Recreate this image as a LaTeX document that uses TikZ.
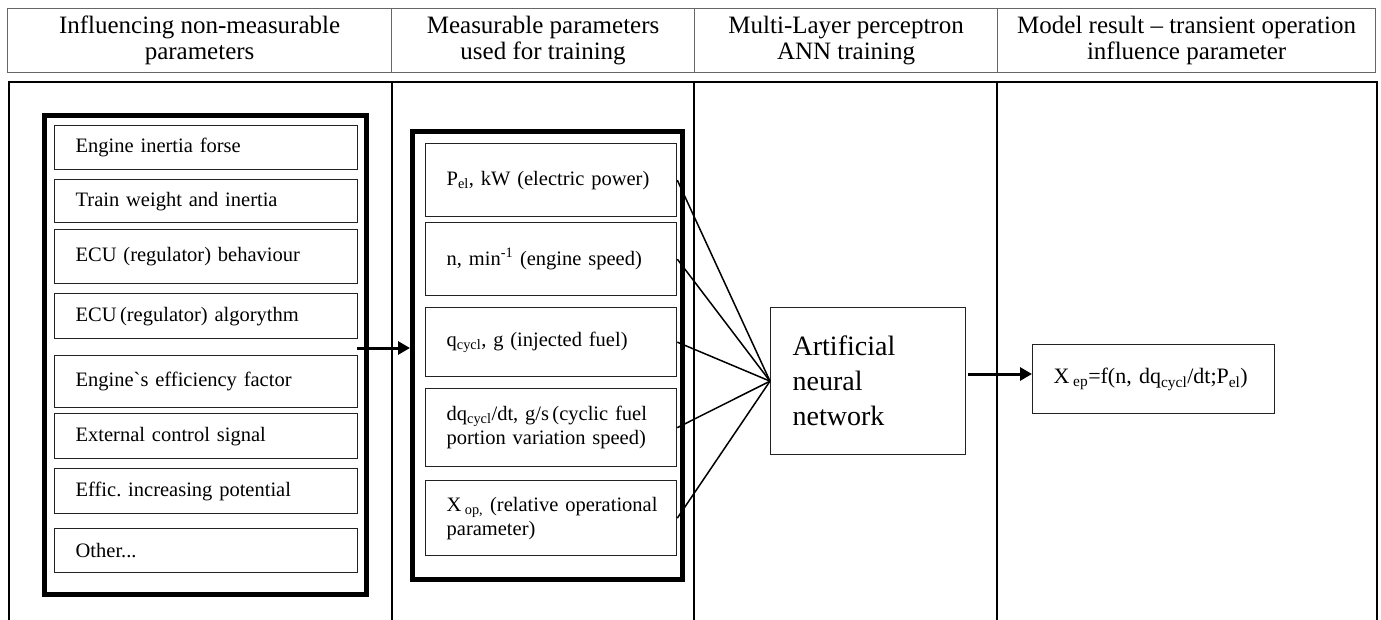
\documentclass[tikz,border=0pt]{standalone}
\usepackage{fontspec}
\setmainfont{Liberation Serif}
\newfontfamily\nomap{Liberation Serif}[Ligatures=TeXOff]
\usetikzlibrary{arrows.meta}
\definecolor{hdrgray}{HTML}{666666}
\definecolor{boxgray}{HTML}{222222}
\frenchspacing
\begin{document}
\begin{tikzpicture}[x=1pt,y=-1pt,
  hdr/.style={draw=hdrgray, line width=1.2pt, minimum height=64pt, inner sep=0pt,
    anchor=north west, align=center, font=\fontsize{25}{26}\selectfont},
  frame/.style={line width=2pt},
  grp/.style={draw, line width=5pt, inner sep=0pt},
  lbox/.style={draw=boxgray, line width=1.3pt, anchor=north west, minimum width=303pt,
    inner xsep=21pt, inner ysep=0pt, text width=261pt, align=left,
    font=\fontsize{20.5}{24}\selectfont},
  rbox/.style={draw=boxgray, line width=1.3pt, anchor=north west, minimum width=251pt,
    inner xsep=21pt, inner ysep=0pt, text width=209pt, align=left,
    font=\fontsize{20.5}{24}\selectfont},
  fan/.style={line width=1.5pt},
  arr/.style={line width=3pt, -{Triangle[length=12pt,width=13pt]}}
]
\useasboundingbox (0,0) rectangle (1381,620);
% header row
\node[hdr, minimum width=384pt] (h1) at (7,8) {Influencing non-measurable\\parameters};
\node[hdr, minimum width=303pt] (h2) at (391,8) {Measurable parameters\\used for training};
\node[hdr, minimum width=303pt] (h3) at (694,8) {Multi-Layer perceptron\\ANN training};
\node[hdr, minimum width=378pt] (h4) at (997,8) {Model result – transient operation\\influence parameter};
% body frame
\draw[frame] (9,620) -- (9,82) -- (1377,82) -- (1377,620);
\draw[frame] (392,82) -- (392,620);
\draw[frame] (694,82) -- (694,620);
\draw[frame] (997,82) -- (997,620);
% left group
\node[grp, minimum width=322.5pt, minimum height=478.5pt] (lgrp) at (205.25,354.75) {};
\node[lbox, minimum height=44pt] (l1) at (54,125) {Engine inertia forse};
\node[lbox, minimum height=43pt] (l2) at (54,179) {Train weight and inertia};
\node[lbox, minimum height=54pt] (l3) at (54,229) {ECU (regulator) behaviour};
\node[lbox, minimum height=45pt] (l4) at (54,293) {ECU\,(regulator) algorythm};
\node[lbox, minimum height=52pt] (l5) at (54,355) {Engine{\nomap `}s efficiency factor};
\node[lbox, minimum height=45pt] (l6) at (54,413) {External control signal};
\node[lbox, minimum height=45pt] (l7) at (54,468) {Effic. increasing potential};
\node[lbox, minimum height=44pt] (l8) at (54,528) {Other...};
% right group
\node[grp, minimum width=270pt, minimum height=448pt] (rgrp) at (547.5,355.5) {};
\node[rbox, minimum height=73pt] (r1) at (425,143) {P\textsubscript{el}, kW (electric power)};
\node[rbox, minimum height=73pt] (r2) at (425,222) {n, min\textsuperscript{-1} (engine speed)};
\node[rbox, minimum height=69pt] (r3) at (425,307) {q\textsubscript{cycl}, g (injected fuel)};
\node[rbox, minimum height=78pt] (r4) at (425,388) {\mbox{dq\textsubscript{cycl}/dt, g/s\,(cyclic fuel}\\\mbox{portion variation speed)}};
\node[rbox, minimum height=75pt] (r5) at (425,480) {\mbox{X\,\textsubscript{op,} (relative operational}\\parameter)};
% ANN
\node[draw=boxgray, line width=1.3pt, anchor=north west, minimum width=195pt, minimum height=147pt,
  inner xsep=22pt, inner ysep=0pt, text width=151pt, align=left,
  font=\fontsize{28}{35}\selectfont] (ann) at (770,307) {Artificial\\neural\\network};
% result
\node[draw=boxgray, line width=1.3pt, anchor=north west, minimum width=242pt, minimum height=69pt,
  inner xsep=21pt, inner ysep=0pt, text width=200pt, align=left,
  font=\fontsize{22}{27}\selectfont] (res) at (1032,344)
  {\mbox{X\,\textsubscript{ep}=f(n, dq\textsubscript{cycl}/dt;P\textsubscript{el})}};
% connectors
\foreach \r in {r1,r2,r3,r4,r5} \draw[fan] (\r.east) -- (ann.west);
\coordinate (la) at (357,348);
\draw[arr] (la) -- (la -| rgrp.west);
\coordinate (ra) at (968,374);
\draw[arr] (ra) -- (ra -| res.west);
\end{tikzpicture}
\end{document}
